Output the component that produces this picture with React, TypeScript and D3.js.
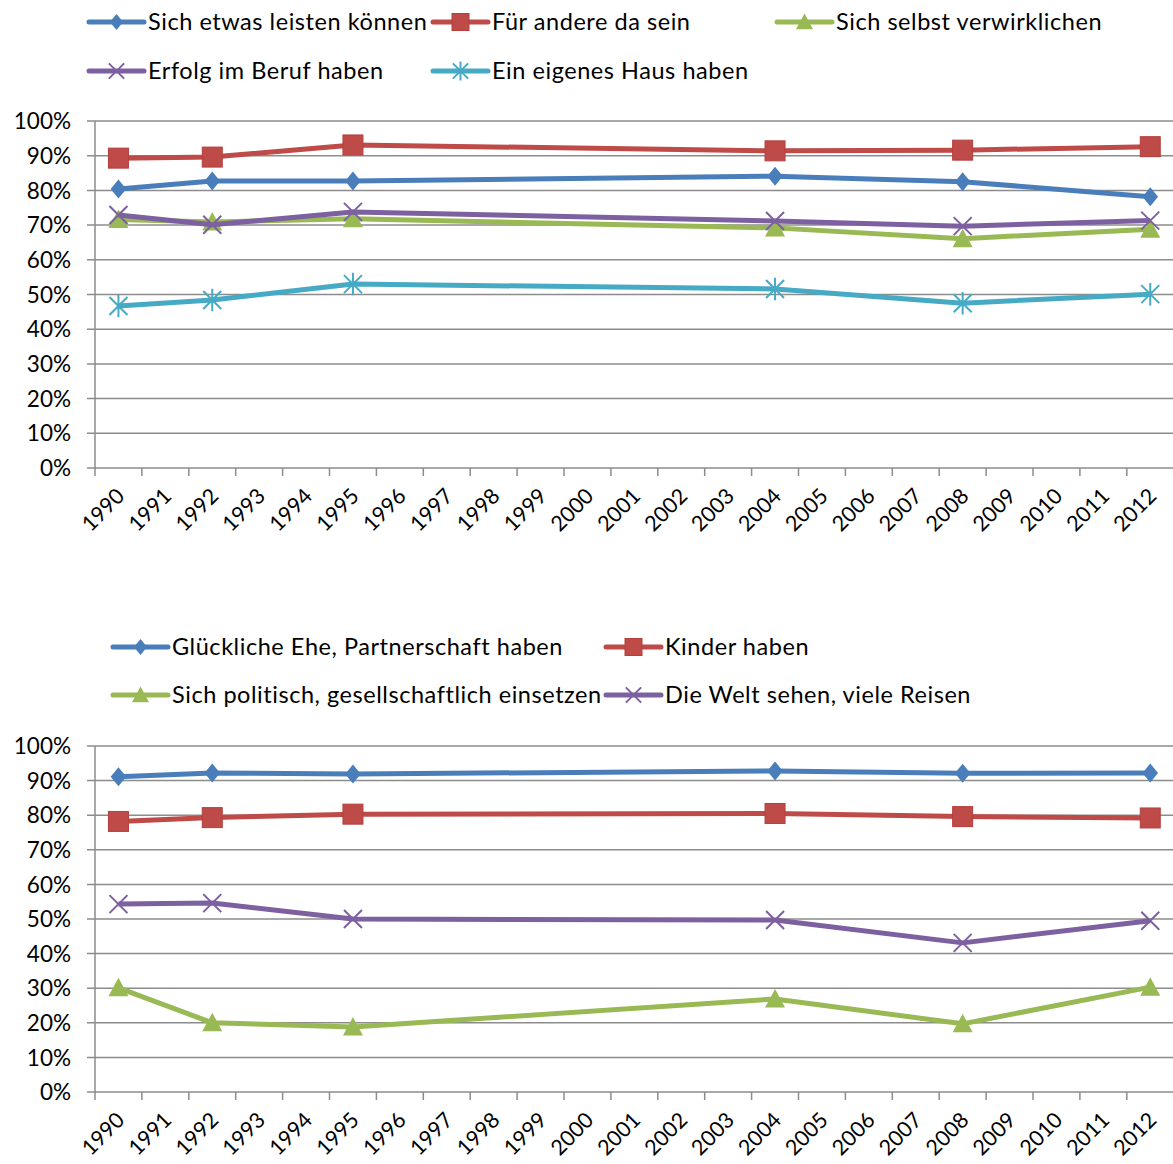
import * as d3 from 'd3'

// category axis (every year) and the survey waves that carry data
const years = ['1990', '1991', '1992', '1993', '1994', '1995', '1996', '1997', '1998', '1999', '2000', '2001', '2002', '2003', '2004', '2005', '2006', '2007', '2008', '2009', '2010', '2011', '2012']
const waves = ['1990', '1992', '1995', '2004', '2008', '2012']
const yTicks = [0, 0.1, 0.2, 0.3, 0.4, 0.5, 0.6, 0.7, 0.8, 0.9, 1]

// top panel
const topNames = ['Sich etwas leisten können', 'Für andere da sein', 'Sich selbst verwirklichen', 'Erfolg im Beruf haben', 'Ein eigenes Haus haben']
const leisten = [0.804, 0.827, 0.827, 0.841, 0.825, 0.782]
const fuerAndere = [0.893, 0.896, 0.931, 0.914, 0.916, 0.926]
const verwirklichen = [0.716, 0.709, 0.718, 0.692, 0.661, 0.688]
const beruf = [0.729, 0.701, 0.738, 0.712, 0.697, 0.713]
const haus = [0.467, 0.484, 0.530, 0.516, 0.475, 0.501]

// bottom panel
const bottomNames = ['Glückliche Ehe, Partnerschaft haben', 'Kinder haben', 'Sich politisch, gesellschaftlich einsetzen', 'Die Welt sehen, viele Reisen']
const ehe = [0.911, 0.922, 0.919, 0.928, 0.921, 0.922]
const kinder = [0.782, 0.793, 0.803, 0.805, 0.796, 0.792]
const politisch = [0.301, 0.200, 0.188, 0.269, 0.197, 0.303]
const welt = [0.543, 0.546, 0.500, 0.497, 0.431, 0.495]

type MarkerKind = 'diamond' | 'square' | 'triangle' | 'x' | 'star'

const BLUE = '#4a7ebb'
const RED = '#be4b48'
const GREEN = '#98b954'
const PURPLE = '#7d60a0'
const CYAN = '#46aac5'
const GRID = '#8c8c8c'
const FONT = 'Lato, "Open Sans", sans-serif'

interface Series {
  name: string
  values: number[]
  color: string
  marker: MarkerKind
}

interface LegendPos {
  x: number
  y: number
}

function Marker({ kind, color, x, y, s = 1 }: { kind: MarkerKind, color: string, x: number, y: number, s?: number }) {
  if (kind === 'diamond') {
    const w = 7.8 * s
    const h = 9.5 * s
    return <path d={`M${x},${y - h}L${x + w},${y}L${x},${y + h}L${x - w},${y}Z`} fill={color} />
  }
  if (kind === 'square') {
    const r = 10 * s
    return <rect x={x - r} y={y - r} width={2 * r} height={2 * r} fill={color} stroke="#b3403d" strokeWidth={1} />
  }
  if (kind === 'triangle') {
    const r = 10 * s
    return <path d={`M${x},${y - r}L${x + r},${y + r * 0.85}L${x - r},${y + r * 0.85}Z`} fill={color} />
  }
  const r = 9 * s
  let d = `M${x - r},${y - r}L${x + r},${y + r}M${x - r},${y + r}L${x + r},${y - r}`
  if (kind === 'star') d += `M${x},${y - r * 1.25}L${x},${y + r * 1.25}`
  return <path d={d} stroke={color} strokeWidth={2} fill="none" />
}

function Panel({ series, legend, top, bottom }: { series: Series[], legend: LegendPos[], top: number, bottom: number }) {
  const x = d3.scaleBand<string>().domain(years).range([95, 95 + 23 * 46.9])
  const y = d3.scaleLinear().domain([0, 1]).range([bottom, top])
  const cx = (yr: string) => (x(yr) ?? 0) + x.bandwidth() / 2
  const line = d3.line<number>()
    .x((_, i) => cx(waves[i]))
    .y(d => y(d))

  return (
    <g fontFamily={FONT}>
      {/* legend */}
      {series.map((s, i) => {
        const p = legend[i]
        return (
          <g key={s.name}>
            <line x1={p.x} x2={p.x + 55} y1={p.y} y2={p.y} stroke={s.color} strokeWidth={5} strokeLinecap="round" />
            <Marker kind={s.marker} color={s.color} x={p.x + 27.5} y={p.y} s={0.85} />
            <text x={p.x + 59} y={p.y} dy="0.36em" fontSize={23.5} letterSpacing={0.55} fill="#000">{s.name}</text>
          </g>
        )
      })}
      {/* gridlines + y axis */}
      {yTicks.map(t => (
        <g key={t}>
          <line x1={87} x2={1173} y1={y(t)} y2={y(t)} stroke={GRID} strokeWidth={1.5} />
          <text x={71} y={y(t)} dy="0.36em" textAnchor="end" fontSize={22.5} fill="#000">{d3.format('.0%')(t)}</text>
        </g>
      ))}
      <line x1={95} x2={95} y1={top} y2={bottom + 8} stroke={GRID} strokeWidth={1.5} />
      {/* x axis ticks and labels */}
      {years.map(yr => (
        <g key={yr}>
          <line x1={(x(yr) ?? 0) + x.step()} x2={(x(yr) ?? 0) + x.step()} y1={bottom} y2={bottom + 8} stroke={GRID} strokeWidth={1.5} />
          <text transform={`translate(${cx(yr) + 2},${bottom + 24}) rotate(-45)`} textAnchor="end" dy="0.36em" fontSize={21.5} fill="#000">{yr}</text>
        </g>
      ))}
      {/* series */}
      {series.map(s => (
        <g key={s.name}>
          <path d={line(s.values) ?? ''} fill="none" stroke={s.color} strokeWidth={5} strokeLinejoin="round" />
          {s.values.map((v, i) => (
            <Marker key={i} kind={s.marker} color={s.color} x={cx(waves[i])} y={y(v)} />
          ))}
        </g>
      ))}
    </g>
  )
}

export default function App() {
  const topSeries: Series[] = [
    { name: topNames[0], values: leisten, color: BLUE, marker: 'diamond' },
    { name: topNames[1], values: fuerAndere, color: RED, marker: 'square' },
    { name: topNames[2], values: verwirklichen, color: GREEN, marker: 'triangle' },
    { name: topNames[3], values: beruf, color: PURPLE, marker: 'x' },
    { name: topNames[4], values: haus, color: CYAN, marker: 'star' },
  ]
  const bottomSeries: Series[] = [
    { name: bottomNames[0], values: ehe, color: BLUE, marker: 'diamond' },
    { name: bottomNames[1], values: kinder, color: RED, marker: 'square' },
    { name: bottomNames[2], values: politisch, color: GREEN, marker: 'triangle' },
    { name: bottomNames[3], values: welt, color: PURPLE, marker: 'x' },
  ]
  const topLegend = [{ x: 89, y: 22 }, { x: 433, y: 22 }, { x: 777, y: 22 }, { x: 89, y: 71 }, { x: 433, y: 71 }]
  const bottomLegend = [{ x: 113, y: 647 }, { x: 606, y: 647 }, { x: 113, y: 695 }, { x: 606, y: 695 }]

  return (
    <svg width={1173} height={1164} style={{ position: 'absolute', left: 0, top: 0, background: '#fff' }}>
      <rect width={1173} height={1164} fill="#fff" />
      <Panel series={topSeries} legend={topLegend} top={121} bottom={468} />
      <Panel series={bottomSeries} legend={bottomLegend} top={746} bottom={1092} />
    </svg>
  )
}
